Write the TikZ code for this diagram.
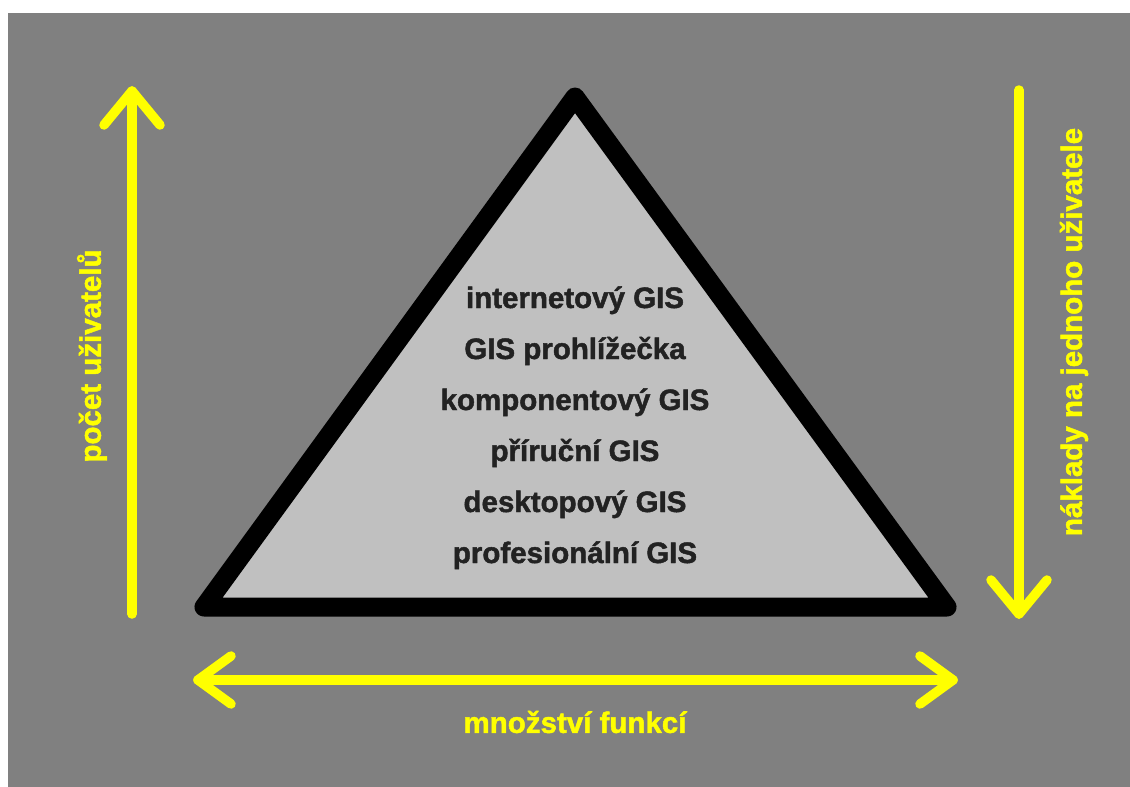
\documentclass[tikz,border=0pt]{standalone}
\usepackage{fontspec}
\setmainfont{Liberation Sans}[BoldFeatures={FakeBold=1.6}]
\usetikzlibrary{calc}
\definecolor{bggray}{RGB}{128,128,128}
\definecolor{pyrfill}{RGB}{192,192,192}
\definecolor{pyrtext}{RGB}{34,34,34}
\definecolor{signyellow}{RGB}{255,255,0}
\tikzset{
  levellabel/.style={font=\fontsize{29.5}{34}\selectfont\bfseries, text=pyrtext, inner sep=0pt, anchor=base},
  axislabel/.style={font=\fontsize{29.5}{34}\selectfont\bfseries, text=signyellow, inner sep=0pt},
  shaft/.style={draw=signyellow, line width=9.5pt, line cap=round},
  barb/.style={draw=signyellow, line width=9.5pt, line cap=round, line join=round},
}
\begin{document}
\begin{tikzpicture}[x=1pt,y=-1pt]
  % canvas
  \useasboundingbox (0,0) rectangle (1130,787);
  \fill[white] (0,0) rectangle (1130,787);
  \fill[bggray] (8,13) rectangle (1130,787);

  % pyramid
  \coordinate (apex) at (575,97);
  \coordinate (bl) at (204,607);
  \coordinate (br) at (947,607);
  \filldraw[fill=pyrfill, draw=black, line width=19pt, line join=round]
    (apex) -- (br) -- (bl) -- cycle;

  % levels of the pyramid
  \node[levellabel] (l1) at (575,308) {internetový GIS};
  \node[levellabel] (l2) at (575,359) {GIS prohlížečka};
  \node[levellabel] (l3) at (575,410) {komponentový GIS};
  \node[levellabel] (l4) at (575,461) {příruční GIS};
  \node[levellabel] (l5) at (575,512) {desktopový GIS};
  \node[levellabel] (l6) at (575,563) {profesionální GIS};

  % number of users: upward arrow
  \coordinate (uTip) at (132,91);
  \coordinate (uEnd) at (132,614);
  \draw[shaft] (uEnd) -- (uTip);
  \draw[barb] ($(uTip)+(-28,34)$) -- (uTip) -- ($(uTip)+(28,34)$);
  \node[axislabel, rotate=90] (users) at (92,356) {počet uživatelů};

  % cost per user: downward arrow
  \coordinate (cTip) at (1019,614);
  \coordinate (cEnd) at (1019,90);
  \draw[shaft] (cEnd) -- (cTip);
  \draw[barb] ($(cTip)+(-28,-34)$) -- (cTip) -- ($(cTip)+(28,-34)$);
  \node[axislabel, rotate=90] (cost) at (1074,332) {náklady na jednoho uživatele};

  % amount of functions: double arrow
  \coordinate (fL) at (198,680);
  \coordinate (fR) at (953,680);
  \draw[shaft] (fL) -- (fR);
  \draw[barb] ($(fL)+(33,-24)$) -- (fL) -- ($(fL)+(33,24)$);
  \draw[barb] ($(fR)+(-33,-24)$) -- (fR) -- ($(fR)+(-33,24)$);
  \node[axislabel] (funcs) at (575,722) {množství funkcí};
\end{tikzpicture}
\end{document}
